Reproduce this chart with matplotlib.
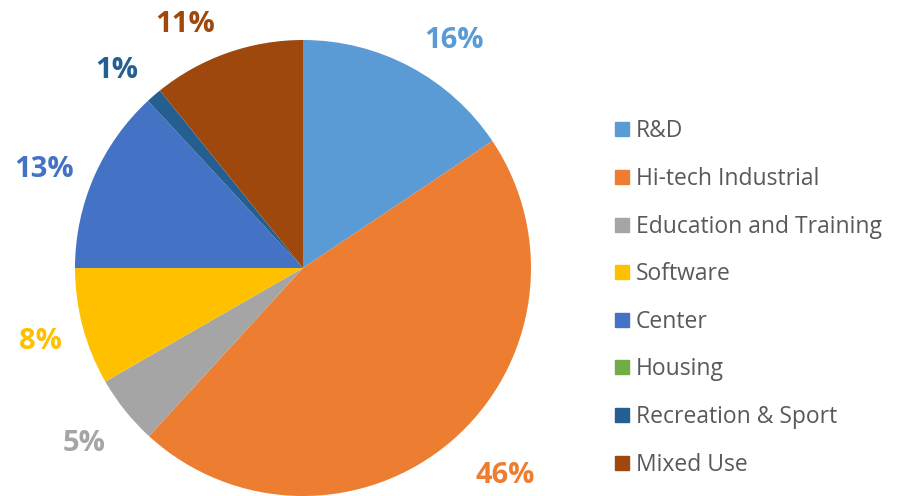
import matplotlib
matplotlib.use("Agg")
import matplotlib.pyplot as plt
from matplotlib.lines import Line2D
import numpy as np

categories = ["R&D", "Hi-tech Industrial", "Education and Training", "Software",
              "Center", "Housing", "Recreation & Sport", "Mixed Use"]
values = [15.6, 46.2, 4.9, 8.3, 13.1, 0.0, 1.1, 10.8]
colors = ["#5B9BD5", "#ED7D31", "#A5A5A5", "#FFC000", "#4472C4", "#70AD47", "#255E91", "#9E480E"]

plt.rcParams['font.family'] = ['Open Sans', 'DejaVu Sans']

fig = plt.figure(figsize=(9.01, 4.96), dpi=100)
ax = fig.add_axes([75/901, 0/496, 456/901, 456/496])
wedges, _ = ax.pie(values, colors=colors, startangle=90, counterclock=False,
                   wedgeprops=dict(linewidth=0), radius=1.0)
ax.set_xlim(-1, 1)
ax.set_ylim(-1, 1)
ax.set_aspect('equal')
ax.axis('off')

total = sum(values)
# (angle offset in degrees, label radius) for the data-label layout
label_layout = {"R&D": (5, 1.21), "Hi-tech Industrial": (-4, 1.26),
                "Education and Training": (0.5, 1.22), "Software": (0, 1.19),
                "Center": (-2, 1.22), "Recreation & Sport": (-2, 1.20),
                "Mixed Use": (-6, 1.20)}
cum = 0.0
for cat, v, c in zip(categories, values, colors):
    mid = cum + v / 2
    cum += v
    if v <= 0:
        continue
    off, r = label_layout.get(cat, (0, 1.22))
    ang_from_top = mid / total * 360 + off
    theta = np.deg2rad(90 - ang_from_top)
    ax.text(r * np.cos(theta), r * np.sin(theta), f"{round(v)}%",
            ha='center', va='center_baseline', color=c, fontsize=21, fontweight='bold',
            clip_on=False)

handles = [Line2D([0], [0], marker='s', linestyle='none', markersize=10,
                  markerfacecolor=c, markeredgecolor=c) for c in colors]
leg = fig.legend(handles, categories, loc='upper left', bbox_to_anchor=(599/901, 1 - 108/496),
                 frameon=False, fontsize=16.5, labelspacing=1.03, handletextpad=0.1,
                 handlelength=1.0, borderpad=0)
for t in leg.get_texts():
    t.set_color('#595959')

fig.savefig("out.png", dpi=100)
